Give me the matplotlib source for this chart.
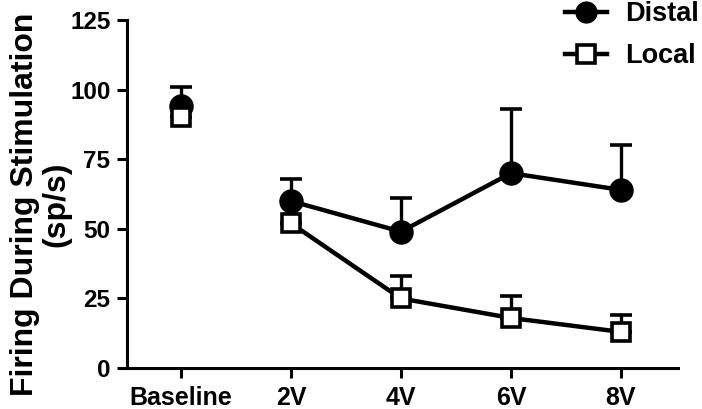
import matplotlib.pyplot as plt
from matplotlib.lines import Line2D
import numpy as np

plt.rcParams['font.family'] = ['Liberation Sans', 'DejaVu Sans']
plt.rcParams['font.weight'] = 'bold'

categories = ['Baseline', '2V', '4V', '6V', '8V']
distal_mean = [94, 60, 49, 70, 64]
distal_err = [7, 8, 12, 23, 16]
local_mean = [90, 52, 25, 18, 13]
local_err = [0, 0, 8, 8, 6]
y_ticks = [0, 25, 50, 75, 100, 125]

x = np.arange(len(categories))

fig = plt.figure(figsize=(7.02, 4.09), dpi=100)
ax = fig.add_axes([0.181, 0.100, 0.785, 0.851])


def draw(vals, errs, marker, size, face, z):
    style = dict(color='black', marker=marker, markersize=size, markerfacecolor=face,
                 markeredgecolor='black', markeredgewidth=2.6, linewidth=3.2,
                 elinewidth=2.4, capsize=8, capthick=2.6, zorder=z)
    # baseline stands on its own, the voltage steps are joined
    ax.errorbar(x[:1], vals[:1], yerr=[[0], errs[:1]], **style)
    ax.errorbar(x[1:], vals[1:], yerr=[[0] * 4, errs[1:]], **style)


draw(distal_mean, distal_err, 'o', 15, 'black', 3)
draw(local_mean, local_err, 's', 13, 'white', 4)

ax.set_xlim(-0.49, 4.52)
ax.set_ylim(0, 125)
ax.set_xticks(x)
ax.set_xticklabels(categories)
ax.set_yticks(y_ticks)
ax.tick_params(axis='x', labelsize=18, width=2.2, length=7, pad=6)
ax.tick_params(axis='y', labelsize=17.5, width=2.2, length=7, pad=5)
for s in ['top', 'right']:
    ax.spines[s].set_visible(False)
for s in ['left', 'bottom']:
    ax.spines[s].set_linewidth(2.2)

fig.text(0.058, 0.501, 'Firing During Stimulation\n(sp/s)', rotation=90, ha='center', va='center',
         fontsize=23, fontweight='bold', linespacing=1.1, multialignment='center')

handles = [
    Line2D([], [], color='black', marker='o', markersize=15, markerfacecolor='black', linewidth=3.2),
    Line2D([], [], color='black', marker='s', markersize=13, markerfacecolor='white',
           markeredgewidth=2.6, linewidth=3.2),
]
fig.legend(handles, ['Distal', 'Local'], loc='upper right', bbox_to_anchor=(0.995, 0.997),
           frameon=False, fontsize=19.5, handlelength=1.55, handletextpad=0.65,
           labelspacing=0.6, borderpad=0, borderaxespad=0)

fig.savefig('out.png', dpi=100)
